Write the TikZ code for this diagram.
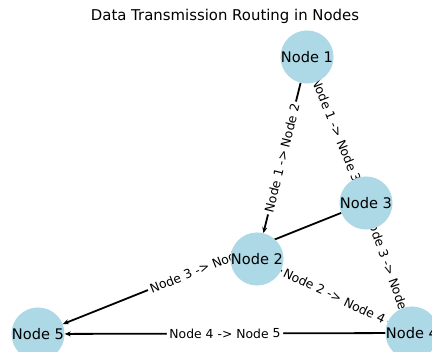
\documentclass[tikz,border=0pt]{standalone}
\usepackage{fontspec}
\setmainfont{DejaVu Sans}
\usepackage{xcolor}
\usetikzlibrary{arrows.meta,backgrounds}
\definecolor{lightblue}{HTML}{ADD8E6}

\begin{document}
\begin{tikzpicture}[
  x=1pt, y=-1pt,
  % routers and the links between them
  router/.style={
    circle,
    fill=lightblue,
    minimum size=42pt,
    inner sep=0pt,
    font=\fontsize{14.6}{16}\selectfont
  },
  link/.style={-{Stealth[length=6pt,width=5pt]}, line width=1.8pt, draw=black},
  linklabel/.style={midway, sloped, fill=white, inner sep=2.5pt, font=\fontsize{12.4}{14}\selectfont}
]

\clip (0,0) rectangle (432,352);

\node[font=\fontsize{14.9}{17}\selectfont] (title) at (225,16) {Data Transmission Routing in Nodes};

\node[router] (n1) at (307,57) {Node 1};
\node[router] (n2) at (257,259) {Node 2};
\node[router] (n3) at (366,203) {Node 3};
\node[router] (n4) at (412,333) {Node 4};
\node[router] (n5) at (38,334) {Node 5};

% links sit under the routers
\begin{scope}[on background layer]
\draw[link] (n1) -- (n2) node[linklabel] {Node 1 -> Node 2};
\draw[link] (n1) -- (n3) node[linklabel] {Node 1 -> Node 3};
\draw[link] (n3) -- (n4) node[linklabel] {Node 3 -> Node 4};
\draw[link] (n2) -- (n4) node[linklabel] {Node 2 -> Node 4};
\draw[link] (n3) -- (n5) node[linklabel] {Node 3 -> Node 5};
\draw[link] (n4) -- (n5) node[linklabel] {Node 4 -> Node 5};
\end{scope}

\end{tikzpicture}
\end{document}
